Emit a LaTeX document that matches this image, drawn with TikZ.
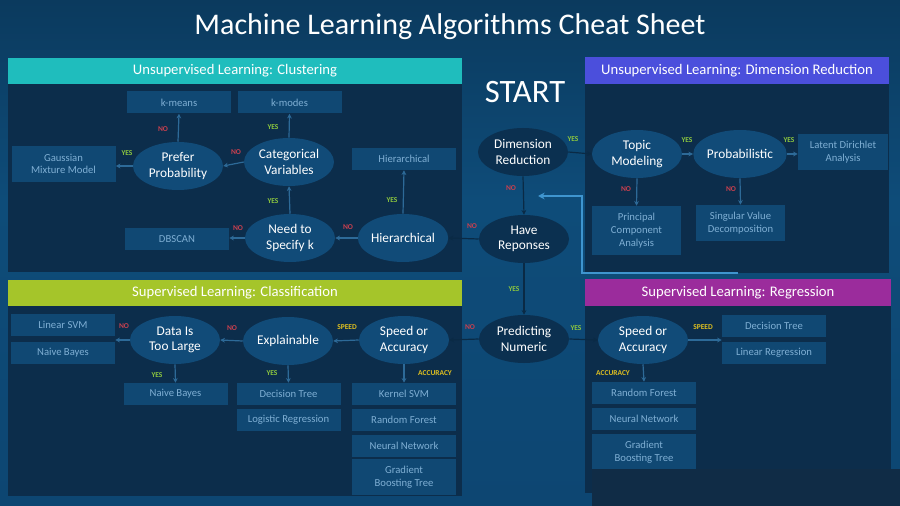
\documentclass[tikz,border=0pt]{standalone}
\usepackage{fontspec}
\setmainfont{Carlito}
\usetikzlibrary{shapes.geometric,arrows.meta}
\definecolor{bgc}{HTML}{0D4672}
\definecolor{bgtop}{HTML}{0B3A5E}
\definecolor{bgmid}{HTML}{0E4C79}
\definecolor{panelc}{HTML}{0C2D4B}
\definecolor{ellc}{HTML}{114B78}
\definecolor{cellc}{HTML}{0B3050}
\definecolor{boxc}{HTML}{104873}
\definecolor{boxt}{HTML}{7FAFD4}
\definecolor{arrc}{HTML}{2D6A98}
\definecolor{darrc}{HTML}{0A2A45}
\definecolor{fbc}{HTML}{3F95CF}
\definecolor{yesc}{HTML}{8CC63F}
\definecolor{noc}{HTML}{C8404F}
\definecolor{spdc}{HTML}{E0C020}
\definecolor{tealc}{HTML}{1FBDBD}
\definecolor{violc}{HTML}{4B4FDC}
\definecolor{limec}{HTML}{A5C52A}
\definecolor{magc}{HTML}{9B2C9C}
\definecolor{ovc}{HTML}{102C46}
\tikzset{
  ell/.style={ellipse, fill=ellc, text=white, minimum width=67.5pt, minimum height=36pt, inner sep=0pt, align=center, font=\fontsize{10}{11.5}\selectfont},
  cell/.style={ell, fill=cellc},
  abox/.style={rectangle, fill=boxc, text=boxt, minimum width=78pt, minimum height=16.5pt, inner sep=0pt, align=center, font=\fontsize{8}{9.5}\selectfont},
  hdr/.style={rectangle, text=white, minimum height=20pt, inner sep=0pt, font=\fontsize{11}{12}\selectfont},
  arr/.style={-{Stealth[length=3.5pt,width=3.5pt]}, draw=arrc, line width=0.9pt},
  darr/.style={arr, draw=darrc},
  lyes/.style={text=yesc, font=\fontsize{5.6}{6}\selectfont\bfseries, inner sep=0pt},
  lno/.style={text=noc, font=\fontsize{5.6}{6}\selectfont\bfseries, inner sep=0pt},
  lspd/.style={text=spdc, font=\fontsize{5.6}{6}\selectfont\bfseries, inner sep=0pt},
}
\begin{document}
\begin{tikzpicture}[x=0.75pt,y=-0.75pt]
\useasboundingbox (0,0) rectangle (900,506);
% background
\fill[bgc] (0,0) rectangle (900,506);
\shade[top color=bgtop, bottom color=bgmid] (0,0) rectangle (900,200);
\shade[top color=bgmid, bottom color=bgc] (0,200) rectangle (900,506);
% panels
\fill[panelc] (8,84) rectangle (462,272);
\fill[panelc] (585,84) rectangle (889,273);
\fill[panelc] (8,306) rectangle (462,496);
\fill[panelc] (585,306) rectangle (891,493);
% title
\node[text=white, font=\fontsize{22.5}{24}\selectfont] (title) at (450,27) {Machine Learning Algorithms Cheat Sheet};
% headers
\node[hdr, fill=tealc, minimum width=340.5pt] (h1) at (235,71) {Unsupervised Learning: Clustering};
\node[hdr, fill=violc, minimum width=228pt] (h2) at (737,70.5) {Unsupervised Learning: Dimension Reduction};
\node[hdr, fill=limec, minimum width=340.5pt] (h3) at (235,293) {Supervised Learning: Classification};
\node[hdr, fill=magc, minimum width=229.5pt] (h4) at (738,292.5) {Supervised Learning: Regression};
% START
\node[text=white, font=\fontsize{24.5}{26}\selectfont] (start) at (525,92) {START};
% center column
\node[cell] (dr) at (523,152) {Dimension\\Reduction};
\node[cell] (hr) at (524,239) {Have\\Reponses};
\node[cell] (pn) at (524,339) {Predicting\\Numeric};
% clustering
\node[abox] (km) at (179,102.5) {k-means};
\node[abox] (kmo) at (289.5,102.5) {k-modes};
\node[abox, minimum height=27pt] (gmm) at (63.5,164) {Gaussian\\Mixture Model};
\node[ell] (pp) at (178,166) {Prefer\\Probability};
\node[ell] (cv) at (289,162) {Categorical\\Variables};
\node[abox] (hib) at (404,159) {Hierarchical};
\node[abox] (db) at (177,239) {DBSCAN};
\node[ell] (nk) at (290,238) {Need to\\Specify k};
\node[ell] (hi) at (403,238) {Hierarchical};
% dimension reduction
\node[ell] (tm) at (637,154) {Topic\\Modeling};
\node[ell] (pr) at (740,154) {Probabilistic};
\node[abox, minimum width=67.5pt, minimum height=27pt] (lda) at (843,152) {Latent Dirichlet\\Analysis};
\node[abox, minimum width=66.75pt, minimum height=36.75pt] (pca) at (636.5,230.5) {Principal\\Component\\Analysis};
\node[abox, minimum width=66.75pt, minimum height=27pt] (svd) at (740.5,223) {Singular Value\\Decomposition};
% classification
\node[abox] (lsvm) at (63,325) {Linear SVM};
\node[abox] (nb1) at (63,353) {Naive Bayes};
\node[ell] (dl) at (175,340) {Data Is\\Too Large};
\node[ell] (ex) at (288,341) {Explainable};
\node[ell] (csa) at (404,340) {Speed or\\Accuracy};
\node[abox] (nb2) at (175.5,394) {Naive Bayes};
\node[abox] (dt) at (288.5,394) {Decision Tree};
\node[abox] (lr) at (288.5,420) {Logistic Regression};
\node[abox] (ksvm) at (404,394) {Kernel SVM};
\node[abox] (rf) at (404,420) {Random Forest};
\node[abox] (nn) at (404,445.5) {Neural Network};
\node[abox, minimum height=27pt] (gbt) at (404,477) {Gradient\\Boosting Tree};
% regression
\node[ell] (rsa) at (643,340) {Speed or\\Accuracy};
\node[abox] (rdt) at (774,326) {Decision Tree};
\node[abox] (rlr) at (774,353) {Linear Regression};
\node[abox] (rrf) at (644,393) {Random Forest};
\node[abox] (rnn) at (644,419) {Neural Network};
\node[abox, minimum height=27pt] (rgbt) at (644,452) {Gradient\\Boosting Tree};
% arrows clustering
\draw[arr] (pp.north) -- (km.south);
\draw[arr] (cv.north) -- (kmo.south);
\draw[arr] (pp.west) -- (gmm.east |- pp.west);
\draw[arr] (cv.west) -- (pp.east);
\draw[arr] (nk.north) -- (cv.south);
\draw[arr] (nk.west) -- (db.east |- nk.west);
\draw[arr] (hi.west) -- (nk.east);
\draw[arr] (hi.north) -- (hib.south);
% center arrows
\draw[darr] (hr.west) -- (hi.east);
\draw[darr] (dr.south) -- (hr.north);
\draw[darr] (hr.south) -- (pn.north);
\draw[darr] (dr.east) -- (tm.west);
\draw[darr] (pn.west) -- (csa.east);
\draw[darr] (pn.east) -- (rsa.west);
% dimension reduction arrows
\draw[arr] (tm.east) -- (pr.west);
\draw[arr] (pr.east) -- (lda.west |- pr.east);
\draw[arr] (tm.south) -- (pca.north);
\draw[arr] (pr.south) -- (svd.north);
% classification arrows
\draw[arr] (csa.west) -- (ex.east);
\draw[arr] (ex.west) -- (dl.east);
\draw[arr] (dl.west) -- (dl.west -| lsvm.east);
\draw[arr] (dl.south) -- (nb2.north);
\draw[arr] (ex.south) -- (dt.north);
\draw[arr] (csa.south) -- (ksvm.north);
% regression arrows
\draw[arr] (rsa.east) -- (rsa.east -| rdt.west);
\draw[arr] (rsa.south) -- (rrf.north);
% feedback line
\coordinate (fb1) at (738,273);
\coordinate (fb2) at (582,273);
\coordinate (fb3) at (582,196);
\coordinate (fb4) at (538,196);
\draw[fbc, line width=1.3pt, -{Stealth[length=5pt,width=5pt]}] (fb1) -- (fb2) -- (fb3) -- (fb4);
% labels
\node[lno] (l1) at (163,129) {NO};
\node[lyes] (l2) at (273,127) {YES};
\node[lyes] (l3) at (127,153) {YES};
\node[lno] (l4) at (236,152) {NO};
\node[lyes] (l5) at (273,201) {YES};
\node[lyes] (l6) at (392,200) {YES};
\node[lno] (l7) at (238,228) {NO};
\node[lno] (l8) at (348,227) {NO};
\node[lno] (l9) at (511,188) {NO};
\node[lyes] (l10) at (514,289) {YES};
\node[lno] (l11) at (472,226) {NO};
\node[lno] (l12) at (470,327) {NO};
\node[lyes] (l13) at (576,328) {YES};
\node[lyes] (l14) at (573,139) {YES};
\node[lyes] (l15) at (687,140) {YES};
\node[lyes] (l16) at (789,140) {YES};
\node[lno] (l17) at (626,189) {NO};
\node[lno] (l18) at (731,189) {NO};
\node[lno] (l19) at (124,326) {NO};
\node[lno] (l20) at (232,328) {NO};
\node[lspd] (l21) at (347,327) {SPEED};
\node[lyes] (l22) at (157,375) {YES};
\node[lyes] (l23) at (272,373) {YES};
\node[lspd] (l24) at (435,373) {ACCURACY};
\node[lspd] (l25) at (703,327) {SPEED};
\node[lspd] (l26) at (613,373) {ACCURACY};
% overlay
\fill[ovc] (592,469) rectangle (900,506);
\end{tikzpicture}
\end{document}
